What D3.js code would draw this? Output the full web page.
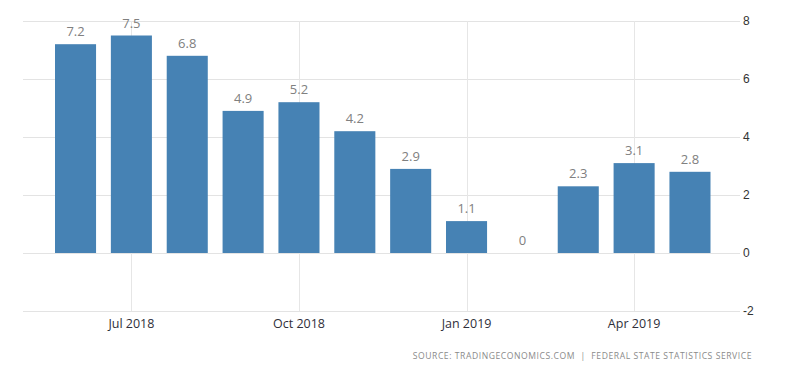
<!DOCTYPE html>
<html>
<head>
<meta charset="utf-8">
<script src="https://cdn.jsdelivr.net/npm/d3@7"></script>
<style>
  body { margin: 0; background: #fff; }
  svg { display: block; }
</style>
</head>
<body>
<div id="chart"></div>
<script>
// monthly values, Jun 2018 .. May 2019
const months = ['Jun 2018', 'Jul 2018', 'Aug 2018', 'Sep 2018', 'Oct 2018', 'Nov 2018',
  'Dec 2018', 'Jan 2019', 'Feb 2019', 'Mar 2019', 'Apr 2019', 'May 2019'];
const values = [7.2, 7.5, 6.8, 4.9, 5.2, 4.2, 2.9, 1.1, 0, 2.3, 3.1, 2.8];
const yTicks = [-2, 0, 2, 4, 6, 8];
const xTickLabels = ['Jul 2018', 'Oct 2018', 'Jan 2019', 'Apr 2019'];
const sourceText = 'SOURCE: TRADINGECONOMICS.COM  |  FEDERAL STATE STATISTICS SERVICE';

const width = 800, height = 373;
const gridLeft = 23, gridRight = 740;

const svg = d3.select('#chart').append('svg')
  .attr('width', width)
  .attr('height', height);

const x = d3.scaleBand()
  .domain(months)
  .range([47.6, 717.9])
  .paddingInner(0.265)
  .paddingOuter(0.1325);

const y = d3.scaleLinear()
  .domain([-2, 8])
  .range([311, 21]);

// horizontal grid
svg.append('g')
  .selectAll('line')
  .data(yTicks)
  .enter()
  .append('line')
  .attr('x1', gridLeft)
  .attr('x2', gridRight)
  .attr('y1', d => Math.round(y(d)) + 0.5)
  .attr('y2', d => Math.round(y(d)) + 0.5)
  .style('stroke', '#e3e3e3')
  .style('stroke-width', 1);

// vertical grid at quarter labels
svg.append('g')
  .selectAll('line')
  .data(xTickLabels)
  .enter()
  .append('line')
  .attr('x1', d => Math.round(x(d) + x.bandwidth() / 2) + 0.5)
  .attr('x2', d => Math.round(x(d) + x.bandwidth() / 2) + 0.5)
  .attr('y1', y(8))
  .attr('y2', y(-2))
  .style('stroke', '#e6e6e6')
  .style('stroke-width', 1);

// bars
svg.append('g')
  .selectAll('rect')
  .data(values)
  .enter()
  .append('rect')
  .attr('x', (d, i) => x(months[i]))
  .attr('width', x.bandwidth())
  .attr('y', d => y(Math.max(d, 0)))
  .attr('height', d => Math.abs(y(d) - y(0)))
  .style('fill', '#4682b4');

// value labels
svg.append('g')
  .selectAll('text')
  .data(values)
  .enter()
  .append('text')
  .text(d => d)
  .attr('x', (d, i) => x(months[i]) + x.bandwidth() / 2)
  .attr('y', d => y(Math.max(d, 0)) - 8)
  .style('text-anchor', 'middle')
  .style('font-family', '"Open Sans", "DejaVu Sans", sans-serif')
  .style('font-size', '13px')
  .style('fill', '#808080');

// right axis labels
const yAxis = svg.append('g')
  .attr('transform', 'translate(' + gridRight + ',0)')
  .call(d3.axisRight(y).tickValues(yTicks).tickFormat(d => String(d)).tickSize(0).tickPadding(3));
yAxis.select('.domain').remove();
yAxis.selectAll('text')
  .style('font-family', '"Liberation Sans", Arial, sans-serif')
  .style('font-size', '12px')
  .style('fill', '#333');

// bottom axis labels
const xAxis = svg.append('g')
  .attr('transform', 'translate(0,' + y(-2) + ')')
  .call(d3.axisBottom(x).tickValues(xTickLabels).tickSize(0).tickPadding(8));
xAxis.select('.domain').remove();
xAxis.selectAll('text')
  .style('font-family', '"Open Sans", "DejaVu Sans", sans-serif')
  .style('font-size', '12.5px')
  .style('fill', '#2f2f3a');

// source
svg.append('text')
  .text(sourceText)
  .attr('x', 752)
  .attr('y', 359)
  .style('text-anchor', 'end')
  .style('white-space', 'pre')
  .style('font-family', '"Open Sans", "DejaVu Sans", sans-serif')
  .style('font-size', '8.6px')
  .style('letter-spacing', '0.55px')
  .style('fill', '#8a8a8a');
</script>
</body>
</html>
